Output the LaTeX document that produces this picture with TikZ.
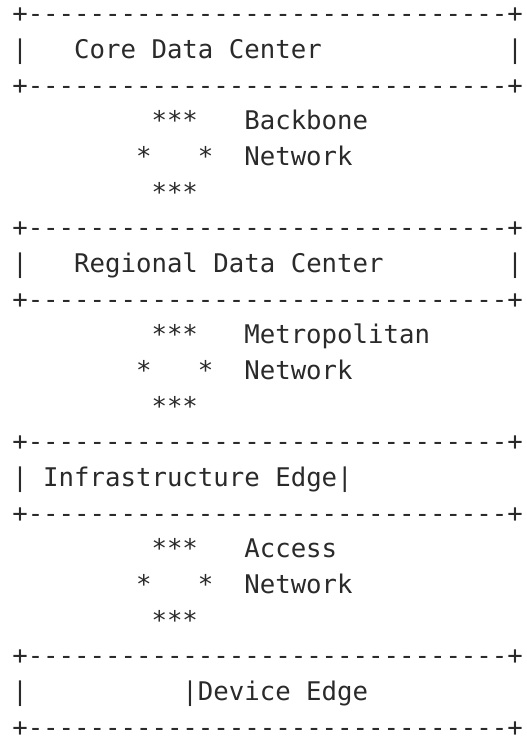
\documentclass[tikz,border=0pt]{standalone}
\usepackage{fontspec}
\setmonofont{DejaVu Sans Mono}
\definecolor{ink}{HTML}{2A2A2A}
\begin{document}
\begin{tikzpicture}[x=15.47pt,y=-35.65pt,
  asc/.style={anchor=base west,inner sep=0pt,outer sep=0pt,text=ink,font=\ttfamily\fontsize{25.7pt}{30pt}\selectfont}]
\useasboundingbox (-0.795,-0.645) rectangle (33.21,20.056);
\def\bord{+-------------------------------+}
% Core data center
\node[asc] (b1) at (0,0) {\bord};
\node[asc] (c1l) at (0,1) {|};
\node[asc] (c1) at (4,1) {Core Data Center};
\node[asc] (c1r) at (32,1) {|};
\node[asc] (b2) at (0,2) {\bord};
% backbone
\node[asc] (n1a) at (9,3) {***};
\node[asc] (n1t) at (15,3) {Backbone};
\node[asc] (n1b) at (8,4) {*};
\node[asc] (n1c) at (12,4) {*};
\node[asc] (n1u) at (15,4) {Network};
\node[asc] (n1d) at (9,5) {***};
% regional
\node[asc] (b3) at (0,6) {\bord};
\node[asc] (c2l) at (0,7) {|};
\node[asc] (c2) at (4,7) {Regional Data Center};
\node[asc] (c2r) at (32,7) {|};
\node[asc] (b4) at (0,8) {\bord};
% metro
\node[asc] (n2a) at (9,9) {***};
\node[asc] (n2t) at (15,9) {Metropolitan};
\node[asc] (n2b) at (8,10) {*};
\node[asc] (n2c) at (12,10) {*};
\node[asc] (n2u) at (15,10) {Network};
\node[asc] (n2d) at (9,11) {***};
% infrastructure edge
\node[asc] (b5) at (0,12) {\bord};
\node[asc] (c3l) at (0,13) {|};
\node[asc] (c3) at (2,13) {Infrastructure Edge|};
\node[asc] (b6) at (0,14) {\bord};
% access
\node[asc] (n3a) at (9,15) {***};
\node[asc] (n3t) at (15,15) {Access};
\node[asc] (n3b) at (8,16) {*};
\node[asc] (n3c) at (12,16) {*};
\node[asc] (n3u) at (15,16) {Network};
\node[asc] (n3d) at (9,17) {***};
% device edge
\node[asc] (b7) at (0,18) {\bord};
\node[asc] (c4l) at (0,19) {|};
\node[asc] (c4) at (11,19) {|Device Edge};
\node[asc] (b8) at (0,20) {\bord};
\end{tikzpicture}
\end{document}
